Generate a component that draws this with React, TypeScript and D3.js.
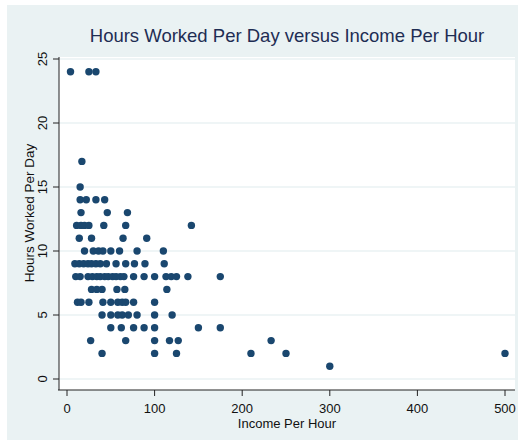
import React from "react";
import * as d3 from "d3";

// Data: one array of income values per hours-worked level
const hoursLevels = [24, 17, 15, 14, 13, 12, 11, 10, 9, 8, 7, 6, 5, 4, 3, 2, 1];
const incomeAt24 = [4, 25, 33];
const incomeAt17 = [17];
const incomeAt15 = [15];
const incomeAt14 = [15, 22, 33, 43];
const incomeAt13 = [16, 46, 69];
const incomeAt12 = [11, 16, 20, 25, 42, 67, 142];
const incomeAt11 = [14, 28, 64, 91];
const incomeAt10 = [20, 30, 36, 41, 50, 60, 80, 110];
const incomeAt9 = [9, 14, 19, 24, 28, 33, 38, 45, 56, 67, 77, 89, 111];
const incomeAt8 = [10, 15, 24, 29, 34, 38, 43, 47, 52, 56, 61, 65, 76, 88, 100, 113, 119, 125, 138, 175];
const incomeAt7 = [28, 34, 40, 57, 66, 114];
const incomeAt6 = [12, 16, 25, 41, 50, 58, 63, 67, 76, 100];
const incomeAt5 = [40, 50, 58, 63, 70, 80, 100, 120];
const incomeAt4 = [50, 62, 76, 88, 100, 150, 175];
const incomeAt3 = [27, 67, 100, 117, 127, 233];
const incomeAt2 = [40, 100, 125, 210, 250, 500];
const incomeAt1 = [300];

const incomeByLevel = [
  incomeAt24, incomeAt17, incomeAt15, incomeAt14, incomeAt13, incomeAt12, incomeAt11,
  incomeAt10, incomeAt9, incomeAt8, incomeAt7, incomeAt6, incomeAt5, incomeAt4,
  incomeAt3, incomeAt2, incomeAt1,
];

const xTicks = [0, 100, 200, 300, 400, 500];
const yTicks = [0, 5, 10, 15, 20, 25];

const title = "Hours Worked Per Day versus Income Per Hour";
const xLabel = "Income Per Hour";
const yLabel = "Hours Worked Per Day";

export default function App() {
  const W = 522, H = 445;
  const plotL = 59, plotR = 515, plotT = 57, plotB = 390;
  const x = d3.scaleLinear().domain([0, 500]).range([67, 505]);
  const y = d3.scaleLinear().domain([0, 25]).range([379, 59]);
  const points: { inc: number; hrs: number }[] = [];
  hoursLevels.forEach((h, i) => incomeByLevel[i].forEach((v) => points.push({ inc: v, hrs: h })));
  const font = "'Liberation Sans', Arial, Helvetica, sans-serif";
  const bg = "#eaf2f3";
  const axisColor = "#222";
  return (
    <svg width={W} height={H} style={{ position: "absolute", left: 0, top: 0, fontFamily: font }}>
      <rect x={0} y={0} width={W} height={H} fill="#fff" />
      <rect x={7} y={5} width={511} height={435} fill={bg} />
      <rect x={plotL} y={plotT} width={plotR - plotL} height={plotB - plotT} fill="#fff" />
      {yTicks.map((t) => (
        <line key={"g" + t} x1={plotL} x2={plotR} y1={y(t)} y2={y(t)} stroke={bg} strokeWidth={1.5} />
      ))}
      {points.map((p, i) => (
        <circle key={i} cx={x(p.inc)} cy={y(p.hrs)} r={3.7} fill="#1a476f" />
      ))}
      <line x1={plotL} x2={plotL} y1={plotT} y2={plotB} stroke={axisColor} strokeWidth={1} />
      <line x1={plotL - 1} x2={plotR} y1={plotB} y2={plotB} stroke={axisColor} strokeWidth={1} />
      {yTicks.map((t) => (
        <g key={"y" + t}>
          <line x1={plotL - 6} x2={plotL} y1={y(t)} y2={y(t)} stroke={axisColor} strokeWidth={1} />
          <text
            transform={`translate(${plotL - 12},${y(t)}) rotate(-90)`}
            textAnchor="middle"
            fontSize={13}
            fill="#111"
          >
            {t}
          </text>
        </g>
      ))}
      {xTicks.map((t) => (
        <g key={"x" + t}>
          <line x1={x(t)} x2={x(t)} y1={plotB} y2={plotB + 6} stroke={axisColor} strokeWidth={1} />
          <text x={x(t)} y={413} textAnchor="middle" fontSize={13} fill="#111">
            {t}
          </text>
        </g>
      ))}
      <text x={287} y={428} textAnchor="middle" fontSize={13} fill="#111">
        {xLabel}
      </text>
      <text transform={`translate(34,213) rotate(-90)`} textAnchor="middle" fontSize={13.5} fill="#111">
        {yLabel}
      </text>
      <text x={287} y={42} textAnchor="middle" fontSize={18.5} fill="#1e2d53">
        {title}
      </text>
    </svg>
  );
}
